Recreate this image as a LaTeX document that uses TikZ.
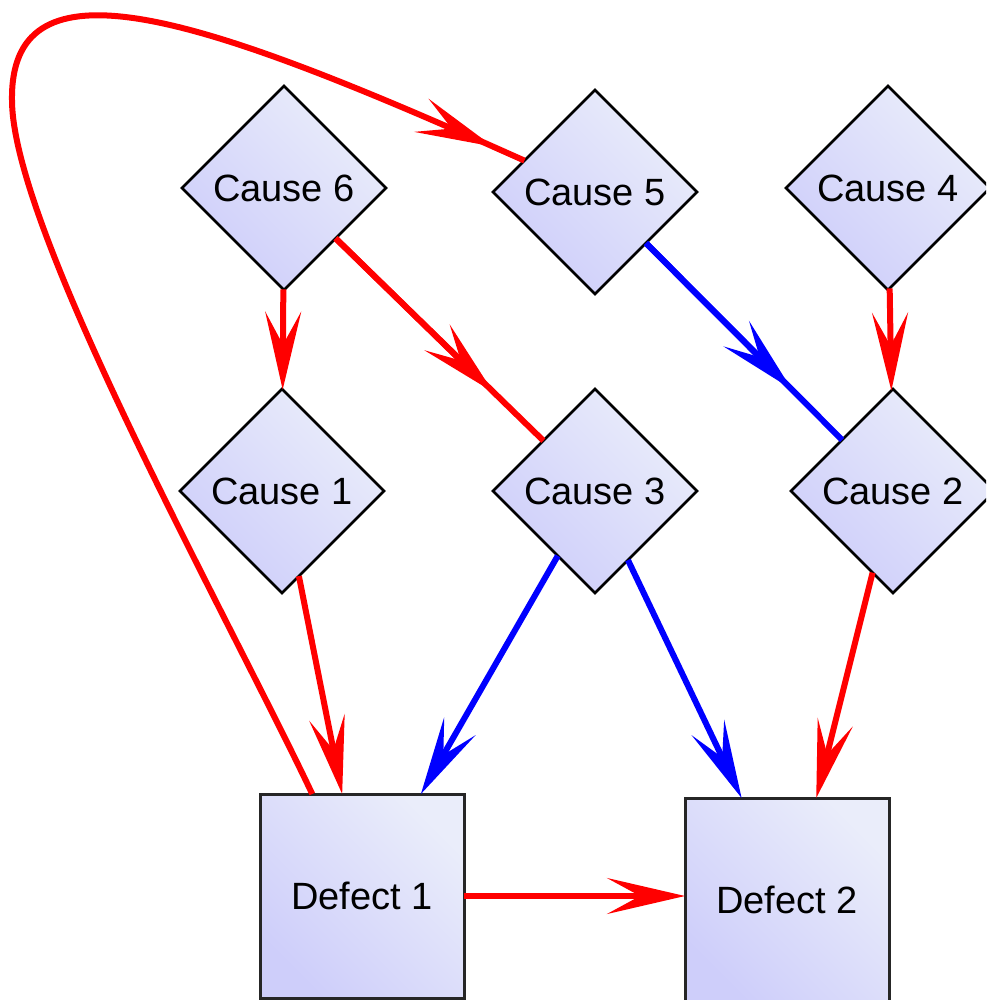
\documentclass[tikz,border=0pt]{standalone}
\usepackage{fontspec}
\setmainfont{Liberation Sans}
\usetikzlibrary{shapes.geometric,arrows.meta,calc}
\definecolor{fdark}{RGB}{206,206,250}
\definecolor{flight}{RGB}{234,237,250}
\begin{document}
\begin{tikzpicture}[x=1pt,y=-1pt,
  grad/.style={top color=flight, bottom color=fdark, shading angle=-45},
  cause/.style={diamond, draw=black, line width=2.6pt, minimum width=204pt, minimum height=204pt,
    inner sep=0pt, outer sep=0pt, grad, font=\fontsize{38}{46}\selectfont},
  defect/.style={rectangle, draw=black!85, line width=3pt, minimum width=204pt, minimum height=204pt,
    inner sep=0pt, outer sep=0pt, grad, font=\fontsize{38}{46}\selectfont},
  bbx/.style={rectangle, minimum width=204pt, minimum height=204pt, inner sep=0pt, outer sep=0pt},
  rl/.style={draw=red, line width=6pt},
  bl/.style={draw=blue, line width=6pt},
  arr/.style={-{Stealth[length=78pt,width=36pt,inset=33pt]}}]
\clip (0,0) rectangle (986,1000);
% nodes
\node[cause] (c6) at (284,188) {Cause 6};
\node[cause] (c5) at (595,192) {Cause 5};
\node[cause] (c4) at (888,188) {Cause 4};
\node[cause] (c1) at (282,491) {Cause 1};
\node[cause] (c3) at (595,491) {Cause 3};
\node[cause] (c2) at (893,491) {Cause 2};
\node[defect] (d1) at (362,896) {Defect 1};
\node[defect] (d2) at (787,900) {Defect 2};
% bounding boxes of the diamonds (arrow tips stop there)
\node[bbx] (c5b) at (c5) {};
\node[bbx] (c3b) at (c3) {};
\node[bbx] (c2b) at (c2) {};
% edges
\draw[rl,arr] (c6) -- (c1);
\draw[rl] (c6) -- (c3);
\draw[rl,arr] (c6) -- (c3b);
\draw[bl] (c5) -- (c2);
\draw[bl,arr] (c5) -- (c2b);
\draw[rl,arr] (c4) -- (c2);
\draw[rl,arr] (c1) -- (d1.101);
\draw[bl,arr] (c3) -- (d1.60.4);
\draw[bl,arr] (c3) -- (d2.114.7);
\draw[rl,arr] (c2) -- (d2.74.6);
\draw[rl,arr] (d1.east) -- (d1.east -| d2.west);
\draw[rl,arr] (d1.116) .. controls (230,620) and (12,230) .. (12,100)
  .. controls (10,-40) and (180,10) .. (c5b.156);
\draw[rl] ($(c5b.156)!-30pt!(c5.156)$) -- (c5.156);
\end{tikzpicture}
\end{document}
